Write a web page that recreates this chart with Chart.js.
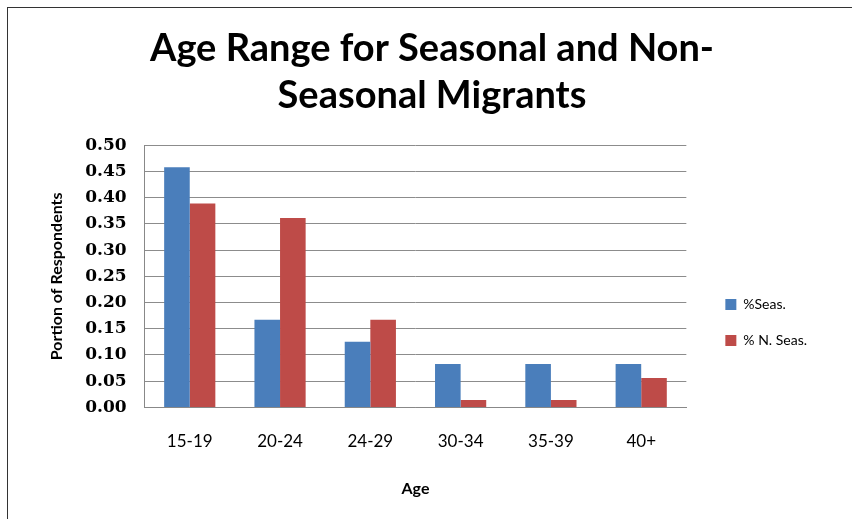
<!DOCTYPE html>
<html>
<head>
<meta charset="utf-8">
<script src="https://cdn.jsdelivr.net/npm/chart.js@4"></script>
<style>
  html, body { margin: 0; padding: 0; background: #fff; }
  #frame {
    position: absolute; left: 7px; top: 7px;
    width: 845px; height: 512px;
    border-left: 1px solid #333; border-top: 1px solid #333;
  }
</style>
</head>
<body>
<div id="frame"><canvas id="chart" width="845" height="512"></canvas></div>
<script>
// dữ liệu
const ageGroups = ['15-19', '20-24', '24-29', '30-34', '35-39', '40+'];
const seasonal = [0.458, 0.167, 0.125, 0.083, 0.083, 0.083];
const nonSeasonal = [0.389, 0.361, 0.167, 0.014, 0.014, 0.056];
const seriesNames = ['%Seas.', '% N. Seas.'];
const titleLines = ['Age Range for Seasonal and Non-', 'Seasonal Migrants'];

const ctx = document.getElementById('chart');

new Chart(ctx, {
    type: 'bar',
    data: {
        labels: ageGroups,
        datasets: [{
            label: seriesNames[0],
            data: seasonal,
            backgroundColor: '#4a7ebb',
            borderWidth: 0
        }, {
            label: seriesNames[1],
            data: nonSeasonal,
            backgroundColor: '#be4b48',
            borderWidth: 0
        }]
    },
    options: {
        responsive: false,
        animation: false,
        layout: { padding: { left: 39, right: 36, top: 17, bottom: 18 } },
        datasets: {
            bar: { categoryPercentage: 0.567, barPercentage: 1 }
        },
        plugins: {
            title: {
                display: true,
                text: titleLines,
                color: '#000',
                font: { family: 'Lato', size: 38, weight: 'bold', lineHeight: 1.24 },
                padding: { top: 0, bottom: 26 }
            },
            legend: {
                position: 'right',
                // tiêu đề rỗng để đẩy chú thích xuống thấp hơn
                title: {
                    display: true,
                    text: ' ',
                    font: { size: 10 },
                    padding: { top: 0, bottom: 106 }
                },
                labels: {
                    color: '#000',
                    boxWidth: 11,
                    boxHeight: 11,
                    padding: 22,
                    font: { family: 'Lato', size: 14 }
                }
            },
            tooltip: { enabled: false }
        },
        scales: {
            x: {
                grid: { display: false, drawTicks: false },
                border: { color: '#888' },
                ticks: {
                    color: '#000',
                    padding: 24,
                    font: { family: 'Lato', size: 17 }
                },
                title: {
                    display: true,
                    text: 'Age',
                    color: '#000',
                    font: { family: 'Lato', size: 16, weight: 'bold' },
                    padding: { top: 3, bottom: 4 }
                }
            },
            y: {
                min: 0,
                max: 0.5,
                grid: { color: '#8c8c8c', drawTicks: false },
                border: { color: '#888' },
                ticks: {
                    stepSize: 0.05,
                    color: '#000',
                    padding: 18,
                    font: { family: 'DejaVu Serif', size: 17, weight: 'bold' },
                    callback: function (value) {
                        return value.toFixed(2);
                    }
                },
                title: {
                    display: true,
                    text: 'Portion of Respondents',
                    color: '#000',
                    font: { family: 'Lato', size: 16, weight: 'bold' },
                    padding: { top: 0, bottom: 1 }
                }
            },
            // khoảng trống giữa vùng vẽ và chú thích
            gap: {
                position: 'right',
                min: 0,
                max: 1,
                display: true,
                grid: { display: false },
                border: { display: false },
                ticks: { display: false },
                afterFit: function (scale) { scale.width = 17; }
            }
        }
    }
});
</script>
</body>
</html>
